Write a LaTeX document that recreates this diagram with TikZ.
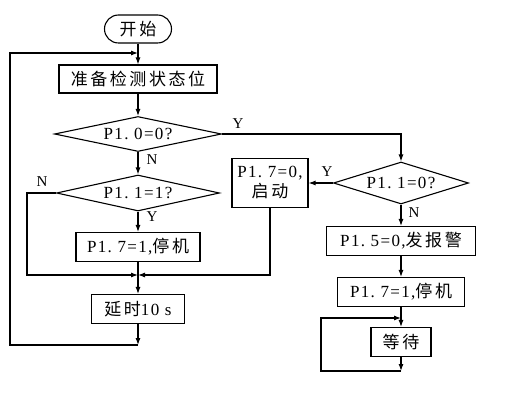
\documentclass[tikz,border=0pt]{standalone}
\usepackage{fontspec}
\setmainfont[LetterSpace=8]{Liberation Serif}
\newfontfamily\cjk[LetterSpace=15]{Noto Sans CJK SC}
\usetikzlibrary{shapes.geometric,arrows.meta}
\begin{document}
\begin{tikzpicture}[x=1pt,y=-1pt,line width=1.1pt,>={Latex[length=7pt,width=5pt]},
  box/.style={draw,inner sep=1pt,font=\fontsize{17}{20}\selectfont},
  test/.style={draw,diamond,aspect=5,inner sep=0pt,font=\fontsize{17}{20}\selectfont},
  lbl/.style={font=\fontsize{15}{17}\selectfont}]
\useasboundingbox (0,0) rectangle (526,403);
\node[box,rounded corners=14pt,minimum width=67pt,minimum height=28pt] (start) at (138,29) {\cjk 开始};
\node[box,minimum width=158pt,minimum height=28pt] (prep) at (138,79) {\cjk 准备检测状态位};
\node[test,minimum width=167pt,minimum height=35pt] (d1) at (138,134) {P1.\ 0=0?};
\node[test,minimum width=163pt,minimum height=36pt] (d2) at (138,193) {P1.\ 1=1?};
\node[box,minimum width=124pt,minimum height=29pt] (stop1) at (138,247) {P1.\ 7=1,{\cjk 停机}};
\node[box,minimum width=93pt,minimum height=29pt] (delay) at (138,309) {{\cjk 延时}10 s};
\node[box,align=center,minimum width=76pt,minimum height=49pt] (run) at (270,183) {P1.\ 7=0,\\{\cjk 启\,动}};
\node[test,minimum width=135pt,minimum height=42pt] (d3) at (401,183) {P1.\ 1=0?};
\node[box,minimum width=149pt,minimum height=29pt] (alarm) at (401,241) {P1.\ 5=0,{\cjk 发报警}};
\node[box,minimum width=127pt,minimum height=29pt] (stop2) at (401,292) {P1.\ 7=1,{\cjk 停机}};
\node[box,minimum width=60pt,minimum height=29pt] (wait) at (401,342) {\cjk 等待};
\node[lbl] (y1) at (238,124) {Y};\node[lbl] (n1) at (152,160) {N};\node[lbl] (n2) at (42,182) {N};
\node[lbl] (y2) at (152,217) {Y};\node[lbl] (y3) at (327,172) {Y};\node[lbl] (n3) at (414,213) {N};
\coordinate (top) at (138,53);\coordinate (join) at (138,275);\coordinate (back) at (138,345);\coordinate (lft) at (10,200);
\coordinate (wb) at (401,371);\coordinate (wt) at (401,318);\coordinate (wl) at (321,340);
\draw[->] (start) -- (prep);
\draw[->] (prep) -- (d1);
\draw[->] (d1) -- (d2);
\draw[->] (d2) -- (stop1);
\draw[->] (stop1) -- (delay);
\draw[->] (d2.west) -- ++(-29,0) |- (join);
\draw[->] (run) |- (join);
\draw[->] (delay) -- (back);
\draw[->] (back) -| (lft) |- (top);
\draw[->] (d1.east) -| (d3);
\draw[->] (d3) -- (run);
\draw[->] (d3) -- (alarm);
\draw[->] (alarm) -- (stop2);
\draw[->] (stop2) -- (wait);
\draw[->] (wait) -- (wb);
\draw[->] (wb) -| (wl) |- (wt);
\end{tikzpicture}
\end{document}
